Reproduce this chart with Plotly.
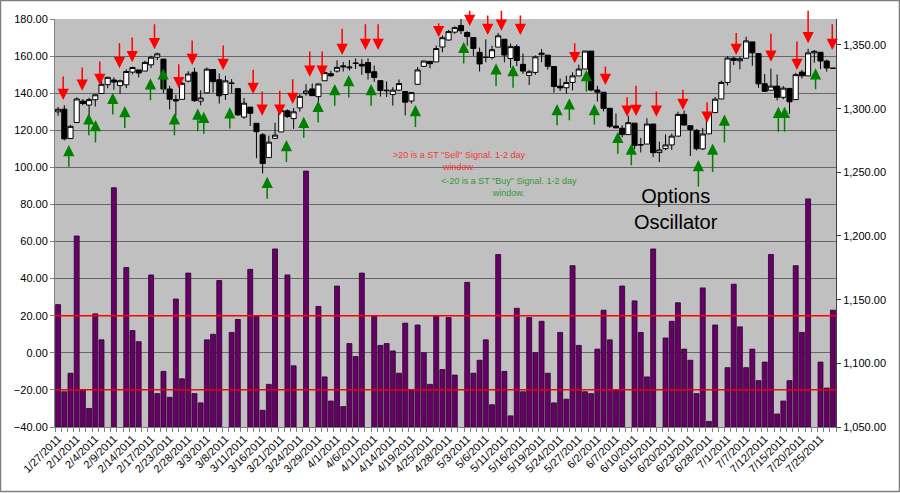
import plotly.graph_objects as go

dates = ["1/27/2011","1/28/2011","1/31/2011","2/1/2011","2/2/2011","2/3/2011","2/4/2011","2/7/2011","2/8/2011","2/9/2011",
 "2/10/2011","2/11/2011","2/14/2011","2/15/2011","2/16/2011","2/17/2011","2/18/2011","2/22/2011","2/23/2011","2/24/2011",
 "2/25/2011","2/28/2011","3/1/2011","3/2/2011","3/3/2011","3/4/2011","3/7/2011","3/8/2011","3/9/2011","3/10/2011",
 "3/11/2011","3/14/2011","3/15/2011","3/16/2011","3/17/2011","3/18/2011","3/21/2011","3/22/2011","3/23/2011","3/24/2011",
 "3/25/2011","3/28/2011","3/29/2011","3/30/2011","3/31/2011","4/1/2011","4/4/2011","4/5/2011","4/6/2011","4/7/2011",
 "4/8/2011","4/11/2011","4/12/2011","4/13/2011","4/14/2011","4/15/2011","4/18/2011","4/19/2011","4/20/2011","4/21/2011",
 "4/25/2011","4/26/2011","4/27/2011","4/28/2011","4/29/2011","5/2/2011","5/3/2011","5/4/2011","5/5/2011","5/6/2011",
 "5/9/2011","5/10/2011","5/11/2011","5/12/2011","5/13/2011","5/16/2011","5/17/2011","5/18/2011","5/19/2011","5/20/2011",
 "5/23/2011","5/24/2011","5/25/2011","5/26/2011","5/27/2011","5/31/2011","6/1/2011","6/2/2011","6/3/2011","6/6/2011",
 "6/7/2011","6/8/2011","6/9/2011","6/10/2011","6/13/2011","6/14/2011","6/15/2011","6/16/2011","6/17/2011","6/20/2011",
 "6/21/2011","6/22/2011","6/23/2011","6/24/2011","6/27/2011","6/28/2011","6/29/2011","6/30/2011","7/1/2011","7/5/2011",
 "7/6/2011","7/7/2011","7/8/2011","7/11/2011","7/12/2011","7/13/2011","7/14/2011","7/15/2011","7/18/2011","7/19/2011",
 "7/20/2011","7/21/2011","7/22/2011","7/25/2011","7/26/2011","7/27/2011"]

oscillator = [26,-21,-11,63,-20,-30,21,7,None,89,
 None,46,12,6,None,42,-22,-10,-24,29,
 -14,43,-22,-27,7,10,39,None,11,18,
 None,45,20,-31,-17,56,None,42,-7,None,
 98,None,25,-13,-26,36,-29,5,-2,43,
 None,20,4,5,1,-11,16,-20,15,0,
 -17,20,-9,19,-12,None,38,-11,-4,7,
 -28,53,-10,-34,24,-21,19,0,17,-11,
 -27,11,-25,47,4,-21,-22,2,23,7,
 -20,36,None,28,11,-13,56,None,8,17,
 27,2,-4,-22,35,-37,15,None,-8,37,
 14,-8,2,-15,-5,53,-33,-26,-15,47,
 11,83,None,-5,-19,23]

opens = [1297.5,1299.6,1276.5,1289.1,1305.9,1302.8,1307.0,1311.9,1318.8,1322.5,
 1318.1,1318.7,1328.7,1330.4,1329.5,1334.4,1340.4,1338.9,1315.4,1307.1,
 1307.3,1321.6,1328.6,1305.9,1312.4,1330.7,1322.7,1311.1,1319.9,1315.7,
 1293.4,1301.2,1288.5,1279.5,1261.6,1276.7,1281.7,1298.3,1292.2,1300.6,
 1311.8,1315.5,1309.4,1321.9,1327.4,1329.5,1333.6,1332.0,1335.9,1334.8,
 1336.2,1329.0,1322.0,1314.0,1311.1,1314.5,1313.4,1306.0,1319.1,1333.2,
 1337.1,1336.7,1348.4,1353.9,1360.1,1365.2,1359.8,1355.9,1344.2,1340.2,
 1340.2,1348.3,1354.5,1339.4,1348.7,1334.8,1326.1,1328.5,1342.4,1342.0,
 1333.1,1317.7,1316.4,1320.6,1325.7,1331.1,1345.2,1314.6,1312.9,1300.3,
 1286.3,1284.6,1279.6,1288.6,1271.3,1272.2,1287.9,1265.5,1268.6,1271.5,
 1278.4,1295.5,1286.6,1283.0,1268.4,1280.2,1296.9,1307.6,1320.6,1339.6,
 1337.6,1339.6,1352.4,1343.3,1319.6,1314.5,1317.7,1308.9,1315.9,1307.1,
 1328.7,1325.7,1343.8,1344.3,1337.4,1331.7]

highs = [1301.3,1302.7,1287.2,1308.9,1307.6,1308.6,1311.0,1322.9,1324.9,1324.5,
 1322.8,1330.8,1333.0,1330.4,1337.6,1341.5,1344.1,1338.9,1317.9,1310.9,
 1320.9,1329.4,1332.1,1314.4,1332.3,1331.1,1327.7,1325.7,1323.2,1315.7,
 1308.4,1301.2,1288.5,1280.9,1278.9,1288.9,1300.6,1299.4,1300.5,1311.3,
 1319.2,1319.7,1319.5,1331.7,1329.8,1337.9,1336.7,1338.2,1339.4,1338.8,
 1339.5,1333.8,1322.0,1321.4,1316.8,1322.9,1313.4,1312.7,1332.7,1337.5,
 1337.6,1349.6,1357.5,1361.7,1364.6,1370.6,1360.8,1355.9,1348.0,1354.4,
 1349.4,1359.4,1354.5,1351.1,1350.5,1343.3,1330.4,1341.8,1346.8,1342.0,
 1333.1,1323.7,1325.9,1328.5,1334.6,1345.2,1345.2,1318.0,1312.9,1300.3,
 1296.2,1287.0,1294.5,1288.6,1277.0,1292.5,1287.9,1274.1,1279.8,1280.4,
 1297.6,1298.6,1286.6,1283.9,1284.9,1296.8,1309.2,1322.0,1341.0,1340.9,
 1340.9,1356.5,1352.4,1343.3,1327.2,1331.5,1326.9,1317.7,1315.9,1328.1,
 1330.4,1347.0,1346.1,1344.3,1338.5,1331.7]

lows = [1294.4,1275.1,1276.5,1289.1,1302.6,1294.8,1301.7,1311.9,1316.0,1314.9,
 1311.7,1316.1,1326.9,1324.6,1329.5,1331.9,1338.1,1312.3,1299.5,1294.3,
 1307.3,1320.6,1305.2,1302.6,1312.4,1312.6,1304.0,1306.9,1312.3,1294.2,
 1292.0,1286.4,1261.1,1249.1,1261.6,1276.2,1281.7,1292.7,1284.1,1297.7,
 1310.2,1310.2,1305.3,1321.9,1325.0,1328.3,1329.1,1330.0,1331.1,1326.6,
 1322.9,1321.1,1309.5,1309.2,1302.4,1313.7,1294.7,1304.0,1319.1,1332.8,
 1331.7,1336.7,1344.3,1353.6,1358.7,1358.6,1349.5,1341.5,1329.2,1336.4,
 1338.6,1348.3,1336.4,1332.0,1333.4,1327.3,1318.5,1326.6,1336.5,1330.7,
 1312.6,1313.9,1311.8,1314.4,1325.7,1331.1,1313.7,1305.6,1297.9,1284.9,
 1284.7,1277.4,1279.6,1268.3,1265.6,1272.2,1261.9,1258.1,1267.4,1267.6,
 1278.4,1286.8,1262.9,1267.2,1267.5,1280.2,1296.9,1307.6,1318.2,1334.3,
 1330.9,1339.6,1333.7,1316.4,1313.3,1314.5,1306.5,1307.4,1295.9,1307.1,
 1323.7,1325.7,1336.0,1331.1,1329.1,1331.7]

closes = [1299.5,1276.3,1286.1,1307.6,1304.0,1307.1,1310.9,1319.1,1324.6,1320.9,
 1321.9,1329.2,1332.3,1328.0,1336.3,1340.4,1343.0,1315.4,1307.4,1306.1,
 1319.9,1327.2,1306.3,1308.4,1331.0,1321.2,1310.1,1321.8,1320.0,1295.1,
 1304.3,1296.4,1281.9,1256.9,1273.7,1279.2,1298.4,1293.8,1297.5,1309.7,
 1313.8,1310.2,1319.4,1328.3,1325.8,1332.4,1332.9,1332.6,1335.5,1333.5,
 1328.2,1324.5,1314.2,1314.4,1314.5,1319.7,1305.1,1312.6,1330.4,1337.4,
 1335.3,1347.2,1355.7,1360.5,1363.6,1361.2,1356.6,1347.3,1335.1,1340.2,
 1346.3,1357.2,1342.1,1348.7,1337.8,1329.5,1329.0,1340.7,1343.6,1333.3,
 1317.4,1316.3,1320.5,1325.7,1331.1,1345.2,1314.6,1312.9,1300.2,1286.2,
 1284.9,1279.6,1289.0,1271.0,1271.8,1287.9,1265.4,1267.6,1271.5,1278.4,
 1295.5,1287.1,1283.5,1268.5,1280.1,1296.7,1307.4,1320.6,1339.7,1337.9,
 1339.2,1353.2,1343.8,1319.5,1313.6,1317.7,1308.9,1316.1,1305.4,1326.7,
 1325.8,1343.8,1345.0,1337.4,1331.9,1331.7]

# Sell arrows (red, pointing down): position, shaft top, tip (price scale)
sell_pos = [0.82,3.89,6.73,9.90,11.95,15.55,19.47,21.63,26.63,31.47,32.92,35.76,37.85,40.6,42.6,45.82,49.58,51.63,
            61.4,66.4,69.31,71.52,74.58,83.34,88.29,91.79,93.24,96.52,100.8,104.7,109.4,115.0,119.2,121.0,124.9]
sell_top = [1326.4,1333.5,1338.2,1352.6,1357.1,1367.5,1336.1,1354.7,1350.8,1331.7,1314.6,1315.2,1324.3,1346.1,1346.1,1363.9,1367.5,1367.5,
            1368.3,1378.1,1374.4,1378.1,1374.4,1352.6,1334.3,1310.1,1319.1,1314.6,1316.0,1306.2,1360.5,1360.0,1353.9,1378.1,1367.5]
sell_tip = [1306.8,1314.1,1318.6,1331.7,1336.4,1346.6,1316.0,1334.3,1330.3,1311.5,1294.4,1294.4,1303.6,1325.1,1325.1,1342.1,1346.1,1346.1,
            1356.1,1364.9,1357.9,1361.2,1357.9,1335.6,1318.6,1293.6,1294.2,1293.6,1298.9,1288.9,1342.1,1336.9,1330.3,1351.3,1346.1]

# Buy arrows (green, pointing up): position, tip, shaft bottom (price scale)
buy_pos = [1.73,4.95,6.03,8.82,10.76,14.9,16.95,18.77,22.53,23.5,27.7,33.73,36.84,39.63,41.95,44.63,46.89,50.5,57.65,
           65.44,70.66,73.4,80.5,82.48,85.23,86.52,90.3,92.48,103.3,105.6,107.5,116.2,117.2,122.2]
buy_tip = [1271.4,1296.3,1291.0,1312.5,1302.0,1323.8,1331.7,1296.3,1300.2,1297.6,1301.0,1246.5,1275.3,1293.6,1306.2,1319.3,1326.4,1319.3,1302.8,
           1352.6,1335.6,1334.3,1303.6,1308.1,1330.3,1303.6,1281.8,1272.7,1259.6,1272.7,1295.5,1301.5,1301.5,1331.7]
buy_bottom = [1253.1,1277.9,1272.2,1294.2,1283.7,1305.4,1313.3,1277.9,1281.1,1279.2,1283.2,1228.1,1257.0,1275.9,1287.9,1301.0,1307.5,1301.0,1284.5,
              1334.3,1316.7,1315.2,1285.8,1289.7,1312.0,1286.3,1263.5,1254.4,1237.6,1249.1,1272.2,1280.6,1280.6,1314.1]

left_range = [-40, 180]
right_range = [1050, 1370.4]
right_ticks = [1050, 1100, 1150, 1200, 1250, 1300, 1350]
signal_levels = [20, -20]

n = len(dates)
idx = list(range(n))
base = left_range[0]
bar_len = [None if v is None else v - base for v in oscillator]

FONT = "Arial, 'Liberation Sans', sans-serif"

fig = go.Figure()
fig.add_trace(go.Bar(x=idx, y=bar_len, base=base, width=0.8,
                     marker=dict(color="#660066", line=dict(color="#2a002a", width=0.8)),
                     yaxis="y", showlegend=False, hoverinfo="skip"))
fig.add_trace(go.Candlestick(x=idx, open=opens, high=highs, low=lows, close=closes, yaxis="y2",
                             increasing=dict(fillcolor="white", line=dict(color="black", width=1)),
                             decreasing=dict(fillcolor="black", line=dict(color="black", width=1)),
                             whiskerwidth=0, showlegend=False))

W, L, R, T, B = 900, 55, 64, 19, 66
pw = W - L - R
ph = 493 - T - B
def px(xp): return (xp - L) / pw
def py(yp): return (493 - B - yp) / ph

annotations = []
for xp, top, tip in zip(sell_pos, sell_top, sell_tip):
    annotations.append(dict(x=xp, y=tip, ax=xp, ay=top, xref="x", yref="y2", axref="x", ayref="y2",
                            showarrow=True, arrowhead=2, arrowsize=1.5, arrowwidth=1.5,
                            arrowcolor="#ff0000", text="", standoff=0))
for xp, tip, bot in zip(buy_pos, buy_tip, buy_bottom):
    annotations.append(dict(x=xp, y=tip, ax=xp, ay=bot, xref="x", yref="y2", axref="x", ayref="y2",
                            showarrow=True, arrowhead=2, arrowsize=1.5, arrowwidth=1.5,
                            arrowcolor="#008000", text="", standoff=0))

annotations.append(dict(x=px(459), y=py(147.5), xref="paper", yref="paper", showarrow=False,
                        text='>20 is a ST "Sell" Signal. 1-2 day<br>window.', align="center",
                        font=dict(family=FONT, size=9, color="#f03a3a")))
annotations.append(dict(x=px(509), y=py(187), xref="paper", yref="paper", showarrow=False,
                        text='<-20 is a ST "Buy" Signal. 1-2 day<br>window.', align="center",
                        font=dict(family=FONT, size=9, color="#339933")))
annotations.append(dict(x=px(720), y=py(209), xref="paper", yref="paper", showarrow=False,
                        text="Options<br>Oscillator", align="center",
                        font=dict(family=FONT, size=20, color="black")))

shapes = [dict(type="line", xref="paper", yref="y", x0=0, x1=1, y0=lv, y1=lv,
               line=dict(color="#ff0000", width=1.3), layer="above") for lv in signal_levels]
shapes.append(dict(type="rect", xref="paper", yref="paper",
                   x0=px(0.5), x1=px(899.5), y0=py(491.5), y1=py(0.5),
                   line=dict(color="#808080", width=1.5), fillcolor="rgba(0,0,0,0)", layer="below"))

fig.update_layout(
    width=W, height=493,
    margin=dict(l=L, r=R, t=T, b=B, pad=0),
    paper_bgcolor="white", plot_bgcolor="#c0c0c0",
    font=dict(family=FONT, size=11, color="black"),
    showlegend=False, boxgap=0.18, boxgroupgap=0,
    xaxis=dict(range=[-0.5, n - 0.5], tickmode="array", tickvals=idx[::3], ticktext=dates[::3],
               tickangle=-45, tickfont=dict(size=11), showgrid=False, zeroline=False,
               ticks="", showline=True, linecolor="#808080", linewidth=1,
               minor=dict(tickmode="array", tickvals=[i - 0.5 for i in range(n + 1)], ticks="outside",
                          ticklen=4, tickcolor="#808080", tickwidth=1, showgrid=False),
               rangeslider=dict(visible=False), fixedrange=True),
    yaxis=dict(range=left_range, tick0=-40, dtick=20, tickformat=".2f", showgrid=True,
               gridcolor="#666666", gridwidth=1, zeroline=False, showline=True, linecolor="#808080",
               ticks="outside", ticklen=4, tickcolor="#808080", tickfont=dict(size=11)),
    yaxis2=dict(range=right_range, overlaying="y", side="right", tickmode="array", tickvals=right_ticks,
                tickformat=",.2f", showgrid=False, zeroline=False, showline=True, linecolor="#404040",
                ticks="outside", ticklen=4, tickcolor="#404040", tickfont=dict(size=11)),
    annotations=annotations, shapes=shapes,
)

fig.write_html("out.html")
